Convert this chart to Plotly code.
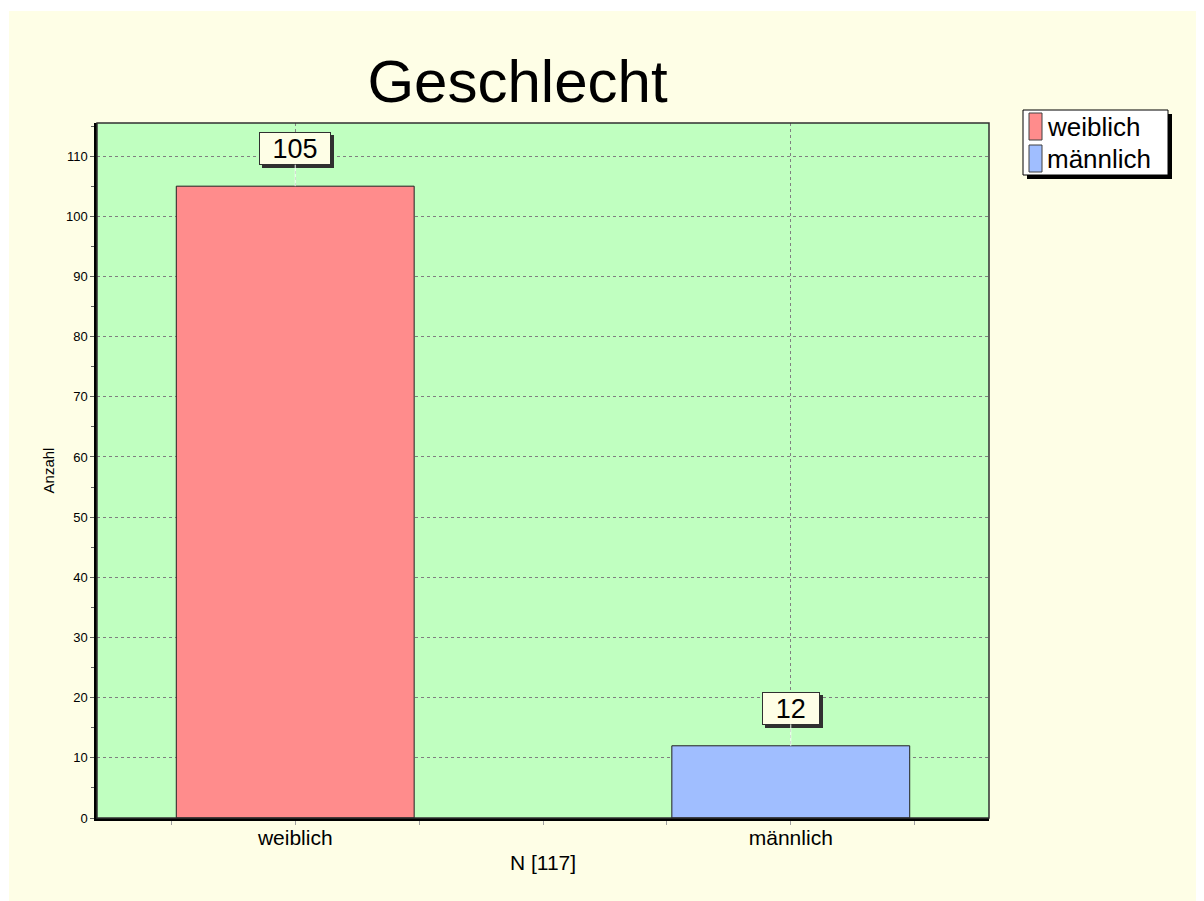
import plotly.graph_objects as go

# ---- data ----
categories = ["weiblich", "männlich"]
counts = [105, 12]
colors = ["#FF8C8C", "#A0BEFF"]
title_text = "Geschlecht"
y_title = "Anzahl"
x_title = "N [117]"

# page body margin of the html page is 8px; figure coordinates = screen - 8
OFF = 8
W, H = 1196, 893
L, R, T, B = 89, 215, 115, 83
PW, PH = W - L - R, H - T - B

def px_x(sx):
    return (sx - OFF - L) / PW

def px_y(sy):
    return (H - B - (sy - OFF)) / PH

CREAM = "#FEFEE6"
FONT = "Liberation Sans, Arial, sans-serif"

fig = go.Figure()
for i, (cat, val, col) in enumerate(zip(categories, counts, colors)):
    fig.add_trace(go.Bar(
        x=[i], y=[val], name=cat, width=0.48,
        marker=dict(color=col, line=dict(color="#202020", width=1)),
        hoverinfo="x+y", showlegend=False,
    ))

# value labels with shadow
annotations = []
for i, val in enumerate(counts):
    txt = str(val)
    w = 14.5 * len(txt) + 26.5
    annotations.append(dict(
        x=i, y=val, xref="x", yref="y", text="", showarrow=False,
        width=w, height=31, borderpad=0, borderwidth=1, bordercolor="#303030",
        bgcolor="#303030", xshift=3, yshift=37.5 - 3,
    ))
for i, val in enumerate(counts):
    txt = str(val)
    w = 14.5 * len(txt) + 26.5
    annotations.append(dict(
        x=i, y=val, xref="x", yref="y", text=txt,
        font=dict(family=FONT, size=27, color="black"),
        showarrow=True, arrowhead=0, arrowwidth=1, arrowcolor="#F4FFF4",
        ax=0, ay=-37.5, width=w, height=31, borderpad=0, borderwidth=1,
        bordercolor="#303030", bgcolor=CREAM,
    ))

shapes = [
    # thin white strips at left and top of the page
    dict(type="rect", xref="paper", yref="paper", x0=px_x(0), x1=px_x(9),
         y0=px_y(H + 20), y1=px_y(0), fillcolor="white", line=dict(width=0), layer="above"),
    dict(type="rect", xref="paper", yref="paper", x0=px_x(0), x1=px_x(W + 20),
         y0=px_y(11), y1=px_y(0), fillcolor="white", line=dict(width=0), layer="above"),
    # plot frame
    dict(type="rect", xref="paper", yref="paper", x0=0, x1=1, y0=0, y1=1,
         line=dict(color="#303030", width=1.5), layer="above"),
]

# legend (box, shadow, swatches, labels)
lg_x0, lg_x1, lg_y0 = 1023, 1168, 110
item_h = 32
lg_y1 = lg_y0 + item_h * len(categories) + 1
shapes.append(dict(type="rect", xref="paper", yref="paper",
                   x0=px_x(lg_x0 + 4), x1=px_x(lg_x1 + 4), y0=px_y(lg_y1 + 4), y1=px_y(lg_y0 + 4),
                   fillcolor="black", line=dict(width=0), layer="above"))
shapes.append(dict(type="rect", xref="paper", yref="paper",
                   x0=px_x(lg_x0), x1=px_x(lg_x1), y0=px_y(lg_y1), y1=px_y(lg_y0),
                   fillcolor="white", line=dict(color="black", width=1), layer="above"))
for k, (cat, col) in enumerate(zip(categories, colors)):
    top = lg_y0 + 3 + k * item_h
    shapes.append(dict(type="rect", xref="paper", yref="paper",
                       x0=px_x(1029), x1=px_x(1042), y0=px_y(top + 27), y1=px_y(top),
                       fillcolor=col, line=dict(color="#404040", width=1), layer="above"))
    annotations.append(dict(x=px_x(1045), y=px_y(top + 14), xref="paper", yref="paper",
                            text=cat, showarrow=False, xanchor="left", yanchor="middle",
                            font=dict(family=FONT, size=26, color="black")))

fig.update_layout(
    width=W, height=H,
    margin=dict(l=L, r=R, t=T, b=B, autoexpand=False),
    paper_bgcolor=CREAM, plot_bgcolor="#C0FFC0",
    barmode="overlay",
    title=dict(text=title_text, font=dict(family=FONT, size=60, color="black"),
               x=(517.5 - OFF) / W, xanchor="center", xref="container",
               y=1 - (81 - OFF) / H, yanchor="middle", yref="container"),
    font=dict(family=FONT, color="black"),
    showlegend=False,
    annotations=annotations,
    shapes=shapes,
    xaxis=dict(
        range=[-0.4, 1.4], tickmode="array", tickvals=list(range(len(categories))),
        ticktext=categories, tickfont=dict(family=FONT, size=21, color="black"),
        ticks="outside", ticklen=4, tickcolor="#A0A0A0", ticklabelstandoff=-5,
        showline=True, linewidth=2.5, linecolor="black",
        showgrid=True, gridcolor="#808080", griddash="3px,3px", gridwidth=1,
        zeroline=False,
        minor=dict(tick0=0, dtick=0.25, ticks="outside", ticklen=4, tickcolor="#A0A0A0",
                   showgrid=False),
        title=dict(text=x_title, font=dict(family=FONT, size=21, color="black"), standoff=8),
        fixedrange=True,
    ),
    yaxis=dict(
        range=[0, 115.5], tick0=0, dtick=10,
        tickfont=dict(family=FONT, size=13, color="black"),
        ticks="outside", ticklen=4, tickcolor="#606060",
        showline=True, linewidth=2.5, linecolor="black",
        showgrid=True, gridcolor="#808080", griddash="3px,3px", gridwidth=1,
        zeroline=False,
        minor=dict(tick0=0, dtick=5, ticks="outside", ticklen=3, tickcolor="#606060",
                   showgrid=False),
        title=dict(text=y_title, font=dict(family=FONT, size=15, color="black"), standoff=8),
        fixedrange=True,
    ),
)

fig.write_html("out.html")
